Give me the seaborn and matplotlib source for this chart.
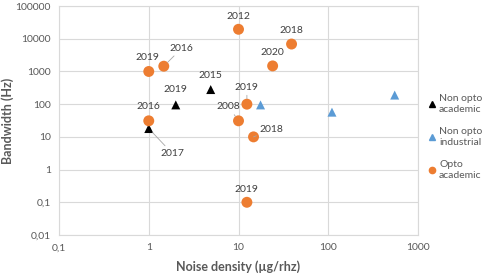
import matplotlib
matplotlib.use("Agg")
import matplotlib.pyplot as plt
import seaborn as sns
import pandas as pd
from matplotlib.lines import Line2D

# Data
non_opto_acad_x = [1.0, 2.0, 4.9]
non_opto_acad_y = [18, 95, 280]
non_opto_acad_year = ["2017", "2019", "2015"]

non_opto_ind_x = [17.6, 110, 550]
non_opto_ind_y = [95, 57, 190]

opto_acad_x = [1.0, 1.47, 1.0, 10, 39, 24, 12.4, 10, 14.7, 12.4]
opto_acad_y = [1000, 1450, 31, 19500, 6900, 1480, 100, 31, 10, 0.1]
opto_acad_year = ["2019", "2016", "2016", "2012", "2018", "2020", "2019", "2008", "2018", "2019"]

x_ticks = [0.1, 1, 10, 100, 1000]
x_tick_labels = ["0,1", "1", "10", "100", "1000"]
y_ticks = [0.01, 0.1, 1, 10, 100, 1000, 10000, 100000]
y_tick_labels = ["0,01", "0,1", "1", "10", "100", "1000", "10000", "100000"]

GROUPS = ["Non opto\nacademic", "Non opto\nindustrial", "Opto\nacademic"]
COLORS = {GROUPS[0]: "#000000", GROUPS[1]: "#5B9BD5", GROUPS[2]: "#ED7D31"}
MARKERS = {GROUPS[0]: "^", GROUPS[1]: "^", GROUPS[2]: "o"}

# label offsets in points (dx, dy, leader line)
LABEL_OFFSETS_BLACK = [(17, -18, True), (0, 11, False), (0, 10, False)]
LABEL_OFFSETS_ORANGE = [(-1, 10, False), (13, 13, True), (0, 10, False), (0, 9.5, False),
                        (0, 9.5, False), (0, 9.5, False), (0, 12, True), (-7, 10, True),
                        (13, 5, True), (0, 9.5, False)]

df = pd.concat([
    pd.DataFrame({"x": non_opto_acad_x, "y": non_opto_acad_y, "group": GROUPS[0]}),
    pd.DataFrame({"x": non_opto_ind_x, "y": non_opto_ind_y, "group": GROUPS[1]}),
    pd.DataFrame({"x": opto_acad_x, "y": opto_acad_y, "group": GROUPS[2]}),
], ignore_index=True)

sns.set_style("white")
plt.rcParams["font.family"] = ["Lato", "DejaVu Sans"]

fig = plt.figure(figsize=(4.89, 2.76), dpi=100)
ax = fig.add_axes([0.1207, 0.1486, 0.7341, 0.8294])
ax.set_xscale("log")
ax.set_yscale("log")

for g in GROUPS:
    sub = df[df["group"] == g]
    sns.scatterplot(data=sub, x="x", y="y", ax=ax, color=COLORS[g], marker=MARKERS[g],
                    s=62 if g == GROUPS[2] else 42, edgecolor="none", zorder=3, legend=False)

ax.set_xlim(0.1, 1000)
ax.set_ylim(0.01, 100000)
ax.set_xticks(x_ticks)
ax.set_xticklabels(x_tick_labels)
ax.set_yticks(y_ticks)
ax.set_yticklabels(y_tick_labels)
ax.minorticks_off()
ax.tick_params(axis="both", length=0, labelsize=7.5, labelcolor="#595959", pad=6)
ax.grid(True, color="#D9D9D9", linewidth=0.8)
ax.set_axisbelow(True)
for sp in ax.spines.values():
    sp.set_color("#D9D9D9")
    sp.set_linewidth(0.8)

ax.set_xlabel("Noise density (µg/rhz)", fontsize=9, fontweight="bold", color="#595959", labelpad=6)
ax.set_ylabel("Bandwidth (Hz)", fontsize=9, fontweight="bold", color="#595959")
ax.yaxis.set_label_coords(-0.125, 0.5)


def label_points(xs, ys, years, offsets):
    for x, y, yr, (dx, dy, leader) in zip(xs, ys, years, offsets):
        props = None
        if leader:
            props = dict(arrowstyle="-", color="#A6A6A6", lw=0.6, shrinkA=0, shrinkB=4)
        ax.annotate(yr, (x, y), xytext=(dx, dy), textcoords="offset points",
                    ha="center", va="center", fontsize=7.5, color="#404040",
                    arrowprops=props, zorder=4)


label_points(non_opto_acad_x, non_opto_acad_y, non_opto_acad_year, LABEL_OFFSETS_BLACK)
label_points(opto_acad_x, opto_acad_y, opto_acad_year, LABEL_OFFSETS_ORANGE)

handles = [Line2D([], [], linestyle="none", marker=MARKERS[g], color=COLORS[g], markersize=4.5)
           for g in GROUPS]
leg = fig.legend(handles, GROUPS, loc="upper left", bbox_to_anchor=(0.868, 0.675), frameon=False,
                 fontsize=7.5, handlelength=0.6, handletextpad=0.4, labelspacing=1.2,
                 borderaxespad=0)
for t in leg.get_texts():
    t.set_color("#595959")
    t.set_linespacing(1.35)

fig.savefig("out.png", dpi=100)
